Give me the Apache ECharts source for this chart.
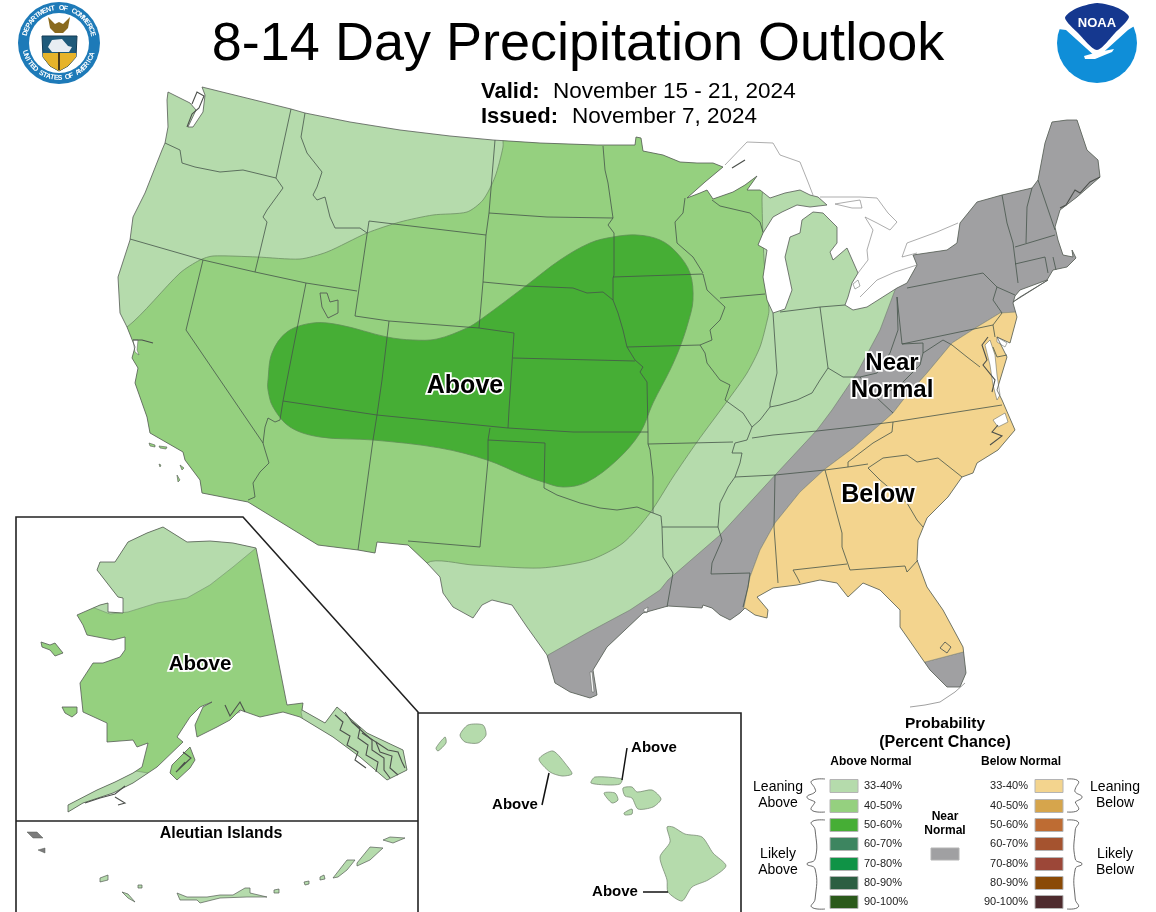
<!DOCTYPE html>
<html>
<head>
<meta charset="utf-8">
<title>8-14 Day Precipitation Outlook</title>
<script src="https://cdn.jsdelivr.net/npm/echarts@6/dist/echarts.min.js"></script>
<style>
html, body {margin: 0; padding: 0; background: #fff;}
#main {width: 1156px; height: 912px;}
</style>
</head>
<body>
<div id="main"></div>
<script>
// legend
let aboveLabels = ['33-40%', '40-50%', '50-60%', '60-70%', '70-80%', '80-90%', '90-100%'];
let belowLabels = ['33-40%', '40-50%', '50-60%', '60-70%', '70-80%', '80-90%', '90-100%'];
let aboveColors = ['#b5dbac', '#95d07f', '#46ae35', '#3d8560', '#0f9346', '#2c5e42', '#2b5a1b'];
let belowColors = ['#f3d48e', '#d6a54c', '#be6c33', '#a5532f', '#9c4738', '#8a4a06', '#4e2b2e'];
let nearColor = '#a0a0a2';

let usOutline = [[202,87],[291,109],[305,113],[350,122],[400,130],[450,136],[493,140],[540,143],[597,145],[635,145],[636,137],[641,138],[643,151],[663,155],[680,162],[697,163],[713,163],[723,167],[705,182],[687,198],[700,193],[707,190],[713,199],[733,192],[745,185],[757,176],[747,190],[760,190],[770,198],[785,193],[800,190],[810,195],[818,197],[827,205],[810,207],[797,205],[782,212],[773,217],[763,233],[758,245],[767,250],[763,277],[767,300],[773,313],[785,309],[792,290],[785,257],[790,237],[800,233],[802,220],[813,212],[823,213],[837,227],[837,243],[830,252],[833,260],[847,248],[858,273],[852,283],[848,297],[845,305],[853,310],[867,307],[897,288],[907,283],[917,265],[913,255],[947,250],[957,243],[960,223],[977,202],[1002,195],[1032,188],[1038,180],[1045,143],[1052,122],[1067,120],[1077,120],[1087,150],[1098,160],[1100,177],[1077,197],[1060,210],[1055,227],[1058,240],[1063,255],[1073,257],[1072,250],[1076,258],[1067,267],[1053,270],[1047,280],[1020,290],[1015,296],[1013,303],[1017,317],[1010,343],[997,337],[1007,357],[997,390],[1002,400],[1015,430],[998,450],[977,463],[973,473],[962,477],[948,497],[927,518],[918,540],[917,560],[927,587],[943,610],[963,647],[966,673],[960,687],[947,687],[930,670],[923,660],[907,637],[900,627],[900,610],[880,590],[863,583],[848,597],[837,583],[820,580],[797,585],[773,588],[757,597],[768,610],[767,618],[755,615],[745,608],[740,613],[730,620],[720,615],[712,608],[703,605],[702,608],[668,606],[643,613],[607,647],[593,670],[597,695],[590,698],[570,692],[555,683],[547,655],[527,627],[512,605],[492,600],[482,605],[473,618],[453,607],[443,593],[440,577],[427,563],[408,545],[377,542],[375,553],[358,550],[318,545],[248,502],[202,493],[200,480],[185,460],[183,452],[150,433],[147,417],[135,383],[138,368],[132,358],[135,347],[127,327],[120,313],[118,277],[130,240],[133,217],[145,193],[162,150],[165,143],[168,127],[167,100],[168,92],[190,103],[196,110],[188,127],[193,127],[203,112],[205,95]];

let zoneMid = [[127,327],[180,273],[200,260],[213,256],[257,257],[300,259],[327,252],[367,233],[400,222],[433,215],[467,212],[483,200],[495,177],[503,147],[505,125],[762,125],[762,200],[764,260],[769,310],[768,317],[760,347],[747,373],[728,400],[697,442],[673,477],[650,513],[623,543],[590,560],[540,568],[473,565],[427,563],[400,620],[100,620],[90,340]];
let zoneDark = [[268,380],[272,353],[287,332],[313,323],[340,325],[387,337],[413,340],[437,339],[467,328],[480,320],[527,285],[560,260],[590,243],[613,237],[637,235],[660,240],[677,253],[690,273],[693,300],[688,323],[680,347],[670,370],[653,403],[640,433],[617,460],[587,482],[563,487],[543,482],[523,475],[487,460],[440,448],[373,440],[320,437],[290,427],[273,407],[268,390]];
let zoneNear = [[548,655],[587,633],[630,610],[660,590],[668,580],[720,535],[777,473],[817,430],[832,410],[857,373],[880,330],[895,290],[898,286],[900,100],[1150,100],[1150,312],[1017,312],[1000,313],[977,327],[952,343],[927,373],[903,400],[893,413],[853,448],[825,469],[800,492],[775,523],[760,550],[750,577],[744,607],[745,660],[570,720],[535,690]];
let zoneNearFlorida = [[925,662],[963,652],[1000,645],[1000,710],[925,710]];
let zoneBelow = [[744,607],[750,577],[760,550],[775,523],[800,492],[825,469],[853,448],[893,413],[903,400],[927,373],[952,343],[977,327],[1000,313],[1017,312],[1100,312],[1100,645],[963,652],[925,662],[880,680],[770,650],[742,625]];

let stateLines = [
    [[291,109],[276,178]],
    [[165,143],[180,150],[182,163],[195,167],[220,172],[243,170],[276,178],[283,188],[267,210],[263,217],[267,222],[255,272]],
    [[130,239],[203,260],[255,272],[306,283],[357,291]],
    [[305,113],[301,137],[307,153],[322,172],[317,187],[313,195],[317,200],[325,197],[330,217],[335,228],[360,228],[367,233]],
    [[369,221],[486,235]],
    [[369,221],[355,316],[389,321],[479,328],[514,333]],
    [[306,283],[287,380],[283,401],[280,420]],
    [[283,401],[377,415],[508,428],[573,432],[648,432]],
    [[389,321],[382,380],[377,415],[373,440],[358,550]],
    [[514,333],[509,410],[508,428]],
    [[495,140],[489,213],[486,235],[483,282],[479,328]],
    [[489,213],[547,217],[613,218]],
    [[483,282],[525,286],[573,288],[587,293],[603,292],[613,300]],
    [[603,146],[605,170],[608,183],[613,218],[608,225],[614,233],[614,275],[613,278],[613,300],[618,313],[623,330],[627,347],[635,360],[643,367],[640,372],[647,382],[648,432],[648,444],[650,450],[653,477],[653,513]],
    [[513,358],[635,361]],
    [[613,277],[703,274],[707,290],[725,307],[720,320],[710,330],[712,340],[700,345],[705,353],[707,363],[720,380],[730,385],[725,400],[743,413],[752,427],[747,440],[735,443],[732,453],[742,453],[740,463],[735,477],[728,487],[720,503],[718,527],[722,540],[712,563],[711,574],[750,573],[748,587],[743,607]],
    [[627,347],[700,345]],
    [[648,444],[733,442]],
    [[490,428],[488,440],[545,443],[544,488],[557,495],[580,503],[600,508],[617,510],[637,507],[653,513],[661,516],[662,527],[663,557],[673,573],[670,590],[667,607]],
    [[488,440],[488,460],[480,547],[408,541]],
    [[662,527],[718,527]],
    [[752,438],[773,435],[817,431],[853,427],[893,422],[1002,405]],
    [[735,477],[775,475],[825,470],[848,467],[868,464]],
    [[893,422],[892,432],[873,443],[848,462],[848,467]],
    [[868,468],[883,458],[907,455],[917,462],[938,458],[962,477]],
    [[868,468],[880,480],[907,503],[917,520],[923,527]],
    [[775,475],[774,527],[778,583]],
    [[825,470],[842,533],[842,547],[850,570],[905,566],[907,572],[918,560]],
    [[793,570],[847,564]],
    [[793,570],[797,577],[800,583]],
    [[780,312],[820,307],[845,305]],
    [[820,307],[828,368]],
    [[770,407],[780,405],[797,400],[812,393],[820,380],[828,368],[843,377],[860,377],[877,373],[890,353],[898,330],[897,297]],
    [[773,313],[777,373],[770,403],[770,407],[760,420],[752,427]],
    [[720,298],[765,294]],
    [[712,200],[720,206],[750,213],[760,222],[763,232]],
    [[685,198],[683,213],[675,222],[677,243],[693,257],[703,273]],
    [[907,288],[983,273],[997,287],[993,300],[1002,313],[993,325]],
    [[902,344],[993,325]],
    [[897,297],[902,344]],
    [[1002,195],[1007,223],[1013,243],[1018,283]],
    [[1015,264],[1045,257],[1048,273]],
    [[1015,247],[1055,235]],
    [[1053,257],[1056,270]],
    [[1032,188],[1027,207],[1026,243]],
    [[1038,180],[1055,230]],
    [[997,287],[1015,295]],
    [[993,325],[995,337]],
    [[993,347],[997,357],[1007,355]],
    [[902,344],[923,343],[923,353],[943,340],[952,345],[967,357],[980,367]],
    [[860,377],[877,398],[900,385],[920,365],[923,353]],
    [[877,398],[893,413]],
    [[186,330],[203,260]],
    [[186,330],[263,443],[265,450],[269,463],[260,472],[253,483],[255,497],[248,500]],
    [[263,443],[265,427],[268,418],[275,422],[280,420]]
];

let lakeShores = [
    [[725,165],[747,142],[773,143],[780,155],[800,162],[808,182],[813,195]],
    [[820,197],[860,197],[877,198],[888,213],[897,222],[890,230],[877,223],[865,217],[873,230],[867,250],[868,260],[858,273]],
    [[860,297],[877,280],[895,272],[917,265]],
    [[917,253],[902,257],[907,243],[937,232],[958,223]],
    [[835,204],[847,202],[860,200],[862,208],[852,208],[835,204]]
];
let coastDetail = [
    [[192,104],[197,92],[204,96],[199,108],[192,114],[187,127]],
    [[1100,177],[1090,182],[1080,193],[1075,190],[1066,205],[1060,208]],
    [[988,337],[982,345],[987,360],[983,365],[995,380],[992,392]],
    [[998,425],[992,432],[1002,436],[990,445]],
    [[133,340],[142,340],[153,343]],
    [[732,168],[745,160]],
    [[335,715],[343,722],[340,730],[350,736],[347,745],[358,752],[355,760],[366,768]],
    [[345,712],[352,722],[360,728],[358,738],[368,745],[366,755],[378,762],[376,772]],
    [[352,722],[364,733],[372,740],[372,750],[384,758],[384,770],[390,778]],
    [[362,733],[376,742],[380,752],[392,756],[390,768],[398,775]],
    [[376,742],[388,750],[398,752],[402,762],[405,768]],
    [[183,752],[191,758],[176,772],[185,762]],
    [[225,705],[230,716],[240,702],[245,712]],
    [[85,803],[100,798],[115,794],[125,786]],
    [[115,797],[125,803],[118,805]]
];
let keysDetail = [[[910,707],[925,705],[940,702],[955,692],[965,683]]];

let extraZone = [[[92,607],[110,614],[128,612],[157,603],[187,598],[210,585],[233,567],[256,548],[262,515],[60,515],[60,600]],
    [[301,712],[310,690],[425,690],[425,800],[320,800]],
    [[136,771],[160,775],[130,805],[50,825],[50,800]]];
let alaskaOutline = [[163,527],[187,542],[210,541],[233,543],[256,548],[287,705],[303,703],[302,710],[325,723],[337,707],[367,733],[403,750],[407,770],[387,780],[360,757],[333,737],[300,717],[283,712],[260,717],[240,710],[230,720],[217,727],[197,737],[195,725],[203,707],[212,702],[200,707],[190,717],[177,737],[183,742],[157,767],[133,783],[113,793],[83,803],[68,812],[68,805],[97,790],[115,782],[133,773],[142,767],[148,743],[137,747],[133,740],[107,742],[107,723],[83,712],[80,683],[93,663],[103,663],[120,657],[125,650],[125,637],[113,640],[87,635],[83,625],[77,615],[100,605],[108,603],[108,612],[123,613],[123,598],[118,597],[97,570],[100,562],[115,562],[128,542],[147,533]];
let alaskaIslands = [
    [[41,642],[50,645],[55,643],[63,653],[55,656],[50,650],[42,647]],
    [[62,707],[77,707],[77,713],[72,717],[65,713]],
    [[190,747],[195,760],[190,768],[177,780],[170,773],[172,765]]
];
let aleutianIslands = [
    [[100,878],[108,875],[108,880],[100,882]],
    [[122,892],[128,894],[135,902],[128,898]],
    [[138,885],[142,885],[142,888],[138,888]],
    [[177,893],[187,897],[207,897],[220,895],[233,895],[245,888],[250,888],[250,893],[267,897],[247,897],[220,898],[200,903],[197,900],[180,900]],
    [[274,890],[279,889],[279,893],[274,893]],
    [[304,882],[309,881],[309,884],[305,885]],
    [[320,877],[324,875],[325,879],[320,880]],
    [[333,878],[347,860],[355,860],[347,870],[338,877]],
    [[357,863],[370,847],[383,848],[370,860],[357,866]],
    [[383,840],[390,837],[405,838],[393,843]]
];
let aleutianGray = [
    [[27,832],[37,832],[43,838],[33,838]],
    [[38,850],[45,848],[45,853]]
];
let hawaiiIslands = [
    [[436,748],[445,737],[446,743],[438,751]],
    [[460,735],[468,725],[483,725],[486,735],[478,743],[465,742]],
    [[539,759],[553,751],[568,767],[572,774],[562,776],[550,772]],
    [[591,783],[595,777],[622,779],[620,784],[608,785]],
    [[604,793],[615,793],[618,800],[612,803]],
    [[623,788],[632,787],[637,792],[652,790],[661,799],[653,807],[638,809],[632,798],[625,796]],
    [[624,813],[632,809],[632,814],[625,815]],
    [[667,827],[673,827],[685,834],[702,837],[713,853],[726,866],[708,880],[692,887],[682,901],[668,892],[667,880],[660,857],[670,842]]
];
let waterHoles = [
    [[985,345],[990,365],[993,385],[997,400],[1000,395],[997,375],[995,355],[990,340]],
    [[997,337],[1007,343],[1005,347],[997,342]],
    [[993,420],[1005,413],[1008,422],[998,427]],
    [[133,340],[138,340],[137,350],[139,355],[135,352]],
    [[228,706],[238,704],[240,712],[232,715]],
    [[590,672],[592,672],[594,692],[592,692]],
    [[643,610],[648,607],[647,613]],
    [[853,284],[858,280],[860,286],[855,289]]
];
let smallIslands = [
    [[149,443],[155,445],[155,447],[150,446]],
    [[159,446],[167,447],[166,449],[160,448]],
    [[159,464],[161,465],[160,467]],
    [[180,465],[184,468],[182,470]],
    [[177,475],[180,480],[178,482]]
];
let saltLake = [[320,293],[327,293],[330,302],[338,300],[338,313],[328,318],[322,307]];
let okeechobee = [[945,642],[940,648],[947,653],[951,647]];
let longIsland = [[1013,302],[1048,280],[1043,283],[1020,297]];

let frames = [
    [[16,912],[16,517],[243,517],[418,712],[418,912]],
    [[16,821],[418,821]],
    [[418,713],[741,713],[741,912]]
];
let leaders = [
    [[627,748],[622,780]],
    [[549,773],[542,805]],
    [[643,892],[668,892]]
];

let textItems = [
    ['Above', 465, 386, 25],
    ['Near', 892, 363, 24],
    ['Normal', 892, 390, 24],
    ['Below', 878, 495, 25],
    ['Above', 200, 664, 20.5]
];
let plainItems = [
    ['Aleutian Islands', 221, 834, 16, 'bold', 'center'],
    ['Above', 654, 748, 15, 'bold', 'center'],
    ['Above', 515, 805, 15, 'bold', 'center'],
    ['Above', 615, 892, 15, 'bold', 'center'],
    ['Valid:', 481, 92, 22, 'bold', 'left'],
    ['November 15 - 21, 2024', 553, 92, 22.5, 'normal', 'left'],
    ['Issued:', 481, 117, 22, 'bold', 'left'],
    ['November 7, 2024', 572, 117, 22.5, 'normal', 'left'],
    ['Probability', 945, 724, 15.5, 'bold', 'center'],
    ['(Percent Chance)', 945, 743, 16, 'bold', 'center'],
    ['Above Normal', 871, 762, 12, 'bold', 'center'],
    ['Below Normal', 1021, 762, 12, 'bold', 'center'],
    ['Near', 945, 817, 12, 'bold', 'center'],
    ['Normal', 945, 831, 12, 'bold', 'center'],
    ['Leaning', 778, 787, 14, 'normal', 'center'],
    ['Above', 778, 803, 14, 'normal', 'center'],
    ['Likely', 778, 854, 14, 'normal', 'center'],
    ['Above', 778, 870, 14, 'normal', 'center'],
    ['Leaning', 1115, 787, 14, 'normal', 'center'],
    ['Below', 1115, 803, 14, 'normal', 'center'],
    ['Likely', 1115, 854, 14, 'normal', 'center'],
    ['Below', 1115, 870, 14, 'normal', 'center']
];

let legendRowsY = [786, 806, 825, 844, 864, 883, 902];
let fontName = '"Liberation Sans", Arial, sans-serif';
let seq = 0;

function polySeries(rings, style, clipRing, smooth) {
    return {
        type: 'custom',
        coordinateSystem: 'cartesian2d',
        silent: true,
        clip: false,
        z: 2 + seq++,
        data: rings.map((r, i) => [i]),
        renderItem: function (params, api) {
            let el = {
                type: 'polygon',
                shape: {points: rings[api.value(0)].map(p => api.coord(p)), smooth: smooth || 0},
                style: style
            };
            if (clipRing) {
                el.clipPath = {type: 'polygon', shape: {points: clipRing.map(p => api.coord(p))}};
            }
            return el;
        }
    };
}

function lineSeries(paths, style, smooth) {
    return {
        type: 'custom',
        coordinateSystem: 'cartesian2d',
        silent: true,
        clip: false,
        z: 2 + seq++,
        data: paths.map((r, i) => [i]),
        renderItem: function (params, api) {
            return {
                type: 'polyline',
                shape: {points: paths[api.value(0)].map(p => api.coord(p)), smooth: smooth || 0},
                style: Object.assign({fill: null}, style)
            };
        }
    };
}

function textSeries(items, styleFn) {
    return {
        type: 'custom',
        coordinateSystem: 'cartesian2d',
        silent: true,
        clip: false,
        z: 2 + seq++,
        data: items.map((r, i) => [i]),
        renderItem: function (params, api) {
            let t = items[api.value(0)];
            let p = api.coord([t[1], t[2]]);
            return {type: 'text', x: p[0], y: p[1], style: styleFn(t)};
        }
    };
}

function brace(x0, x1, y0, yt, y1) {
    let m = x0 + (x1 - x0) * 0.55, n = x0 + (x1 - x0) * 0.75;
    return [[x0, y0], [n, y0 + 2], [m, y0 + 10], [m, yt - 5], [x1, yt], [m, yt + 5], [m, y1 - 10], [n, y1 - 2], [x0, y1]];
}

let braces = [
    brace(825, 807, 779, 797, 812),
    brace(825, 807, 820, 864, 909),
    brace(1067, 1082, 779, 797, 812),
    brace(1067, 1082, 820, 864, 909)
];

function swatchSeries(labels, colors, x0) {
    let rect = labels.map((l, i) => [[x0, legendRowsY[i] - 6.5], [x0 + 28, legendRowsY[i] - 6.5], [x0 + 28, legendRowsY[i] + 6.5], [x0, legendRowsY[i] + 6.5]]);
    return {
        type: 'custom',
        coordinateSystem: 'cartesian2d',
        silent: true,
        clip: false,
        z: 2 + seq++,
        data: rect.map((r, i) => [i]),
        renderItem: function (params, api) {
            let i = api.value(0);
            return {
                type: 'polygon',
                shape: {points: rect[i].map(p => api.coord(p))},
                style: {fill: colors[i], stroke: '#b4b4b4', lineWidth: 1}
            };
        }
    };
}

let coast = '#555b55';
let series = [
    polySeries([usOutline], {fill: aboveColors[0]}),
    polySeries([zoneMid], {fill: aboveColors[1], stroke: '#6f8f66', lineWidth: 0.8}, usOutline, 0.25),
    polySeries([zoneDark], {fill: aboveColors[2], stroke: '#5f8f55', lineWidth: 0.8}, usOutline, 0.35),
    polySeries([zoneNear, zoneNearFlorida], {fill: nearColor, stroke: '#6e7a6e', lineWidth: 0.6}, usOutline),
    polySeries([zoneBelow], {fill: belowColors[0], stroke: '#8a8a80', lineWidth: 0.6}, usOutline),
    polySeries(waterHoles, {fill: '#ffffff', stroke: coast, lineWidth: 0.5}),
    polySeries([saltLake, okeechobee], {fill: null, stroke: coast, lineWidth: 0.9}),
    polySeries([longIsland], {fill: nearColor, stroke: coast, lineWidth: 0.8}),
    polySeries(smallIslands, {fill: aboveColors[1], stroke: coast, lineWidth: 0.6}),
    lineSeries(stateLines, {stroke: '#45544a', lineWidth: 0.8}),
    polySeries([usOutline], {fill: null, stroke: coast, lineWidth: 0.8}),
    lineSeries(lakeShores, {stroke: '#8a8a8a', lineWidth: 0.7}),
    polySeries([alaskaOutline], {fill: aboveColors[1]}),
    polySeries(extraZone, {fill: aboveColors[0], stroke: '#7a9a72', lineWidth: 0.7}, alaskaOutline),
    polySeries([alaskaOutline], {fill: null, stroke: coast, lineWidth: 0.8}),
    polySeries(alaskaIslands, {fill: aboveColors[1], stroke: coast, lineWidth: 0.8}),
    lineSeries(coastDetail, {stroke: '#4c504c', lineWidth: 1.1}),
    lineSeries(keysDetail, {stroke: '#777', lineWidth: 0.7}),
    polySeries(aleutianIslands, {fill: aboveColors[0], stroke: coast, lineWidth: 0.7}),
    polySeries(aleutianGray, {fill: '#7c7c7c', stroke: coast, lineWidth: 0.5}),
    polySeries(hawaiiIslands, {fill: aboveColors[0], stroke: '#6f7f6a', lineWidth: 0.7}, null, 0.25),
    lineSeries(frames, {stroke: '#222', lineWidth: 1.6}),
    lineSeries(leaders, {stroke: '#111', lineWidth: 1.5}),
    lineSeries(braces, {stroke: '#444', lineWidth: 0.8}, 0.5),
    swatchSeries(aboveLabels, aboveColors, 830),
    swatchSeries(belowLabels, belowColors, 1035),
    polySeries([[[931, 848], [959, 848], [959, 860], [931, 860]]], {fill: nearColor, stroke: '#b4b4b4', lineWidth: 1}),
    textSeries(textItems, t => ({
        text: t[0], fontSize: t[3], fontWeight: 'bold', fontFamily: fontName, fill: '#000',
        stroke: '#fff', lineWidth: 3.5, align: 'center', verticalAlign: 'middle'
    })),
    textSeries(plainItems, t => ({
        text: t[0], fontSize: t[3], fontWeight: t[4], fontFamily: fontName, fill: '#000',
        align: t[5], verticalAlign: 'middle'
    })),
    textSeries(aboveLabels.map((l, i) => [l, 864, legendRowsY[i]]), t => ({
        text: t[0], fontSize: 11, fontFamily: fontName, fill: '#222', align: 'left', verticalAlign: 'middle'
    })),
    textSeries(belowLabels.map((l, i) => [l, 1028, legendRowsY[i]]), t => ({
        text: t[0], fontSize: 11, fontFamily: fontName, fill: '#222', align: 'right', verticalAlign: 'middle'
    }))
];

// seal and NOAA badge
let sealChars = [];
function arcText(str, cx, cy, r, startDeg, stepDeg, flip) {
    str.split('').forEach((ch, i) => {
        let a = (startDeg + i * stepDeg) * Math.PI / 180;
        sealChars.push({
            type: 'text', x: cx + r * Math.cos(a), y: cy + r * Math.sin(a), z: 50,
            rotation: flip ? -(a - Math.PI / 2) : -(a + Math.PI / 2),
            style: {text: ch, fontSize: 7, fontWeight: 'bold', fontFamily: fontName, fill: '#fff', align: 'center', verticalAlign: 'middle'}
        });
    });
}
arcText('DEPARTMENT OF COMMERCE', 59, 43, 35, 196, 7.1, false);
arcText('UNITED STATES OF AMERICA', 59, 43, 35, 164, -6.3, true);

let badges = [
    {type: 'circle', z: 40, shape: {cx: 59, cy: 43, r: 41}, style: {fill: '#1d7ab8'}},
    {type: 'circle', z: 41, shape: {cx: 59, cy: 43, r: 30}, style: {fill: '#fff'}},
    {type: 'polygon', z: 42, shape: {points: [[48, 17], [55, 24], [59, 22], [63, 24], [70, 17], [68, 28], [63, 33], [55, 33], [50, 28]]}, style: {fill: '#8a6a1e'}},
    {type: 'polygon', z: 42, shape: {points: [[42, 36], [77, 36], [76, 57], [68, 66], [59, 71], [50, 66], [43, 57]]}, style: {fill: '#1f5a7a', stroke: '#123a55', lineWidth: 1}},
    {type: 'polygon', z: 43, shape: {points: [[43, 53], [76, 53], [76, 57], [68, 66], [59, 71], [50, 66], [43, 57]]}, style: {fill: '#e6b32a'}},
    {type: 'polygon', z: 44, shape: {points: [[48, 47], [52, 40], [62, 39], [68, 46], [72, 47], [69, 52], [52, 52]]}, style: {fill: '#e8edf2'}},
    {type: 'rect', z: 44, shape: {x: 58, y: 52, width: 2, height: 18}, style: {fill: '#4a3a1a'}},
    {type: 'circle', z: 40, shape: {cx: 1097, cy: 43, r: 40}, style: {fill: '#0f8ed8'}},
    {type: 'polygon', z: 41, shape: {points: [[1050, 0], [1144, 0], [1144, 20], [1128, 30], [1097, 58], [1066, 30], [1050, 28]]}, style: {fill: '#fff'}},
    {type: 'polygon', z: 42, shape: {points: [[1065, 18], [1075, 9], [1097, 3], [1118, 8], [1129, 17], [1115, 33], [1097, 50], [1078, 33]], smooth: 0.25}, style: {fill: '#15388f'}},
    {type: 'polygon', z: 43, shape: {points: [[1084, 56], [1098, 52], [1114, 49], [1112, 52], [1095, 59], [1085, 59]]}, style: {fill: '#fff'}},
    {type: 'text', z: 44, x: 1097, y: 23, style: {text: 'NOAA', fontSize: 13, fontWeight: 'bold', fontFamily: fontName, fill: '#fff', align: 'center', verticalAlign: 'middle'}}
];

let chart = echarts.init(document.getElementById('main'), null, {renderer: 'canvas'});
chart.setOption({
    animation: false,
    backgroundColor: '#fff',
    title: {
        text: '8-14 Day Precipitation Outlook',
        left: 573,
        top: 13,
        textAlign: 'center',
        textStyle: {fontFamily: fontName, fontSize: 54, fontWeight: 'normal', color: '#000'}
    },
    grid: {left: 0, right: 0, top: 0, bottom: 0},
    xAxis: {type: 'value', min: 0, max: 1156, show: false},
    yAxis: {type: 'value', min: 0, max: 912, inverse: true, show: false},
    series: series,
    graphic: badges.concat(sealChars)
});
</script>
</body>
</html>
